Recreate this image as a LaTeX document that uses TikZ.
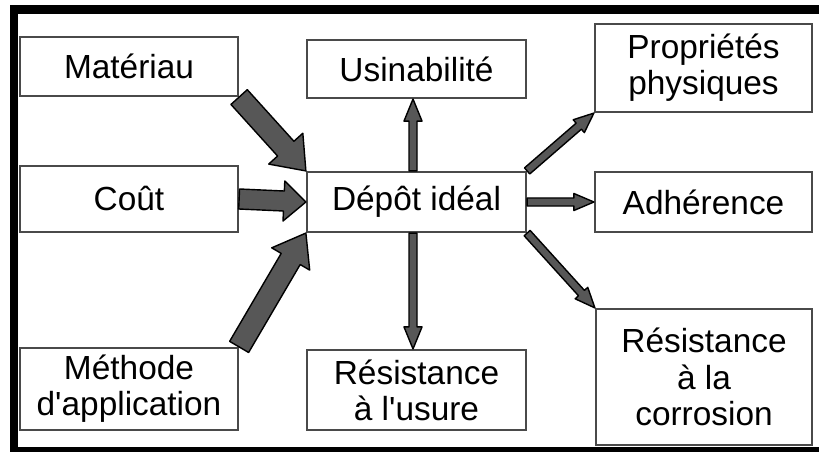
\documentclass[tikz,border=0pt]{standalone}
\usepackage{fontspec}
\setmainfont{Liberation Sans}
\usetikzlibrary{calc,positioning}
\definecolor{flechegris}{HTML}{575757}
\definecolor{bordgris}{HTML}{4A4A4A}
\tikzset{
  bloc/.style={draw=bordgris, line width=0.6pt, fill=white, align=center, inner sep=0pt,
    font=\fontsize{9.5}{10.3}\selectfont},
  fleche/.style={fill=flechegris, draw=black, line width=0.4pt, line join=round},
}
% block arrow: from, to, half shaft, half head, head length
\newcommand{\blocarrow}[5]{%
  \coordinate (fa) at (#1);
  \coordinate (fb) at (#2);
  \coordinate (fn) at ($(fb)!#5!(fa)$);
  \filldraw[fleche] ($(fa)!#3!90:(fb)$) -- ($(fn)!#3!90:(fb)$) -- ($(fn)!#4!90:(fb)$)
    -- (fb) -- ($(fn)!#4!-90:(fb)$) -- ($(fn)!#3!-90:(fb)$) -- ($(fa)!#3!-90:(fb)$) -- cycle;}

\begin{document}
\begin{tikzpicture}[x=0.01cm, y=-0.01cm]
    \useasboundingbox (0,0) rectangle (819,452);
    \fill[white] (0,0) rectangle (819,452);
    % frame
    \fill[black] (10,5) rectangle (819,452);
    \fill[white] (18,14) rectangle (819,447);

    % left column
    \node[bloc, minimum width=2.18cm, minimum height=0.59cm] (mat) at (129,66.5) {Matériau};
    \node[bloc, minimum width=2.18cm, minimum height=0.66cm] (cout) at (129,199) {Coût};
    \node[bloc, minimum width=2.18cm, minimum height=0.82cm] (meth) at (129,389) {Méthode\\d\textquotesingle application};

    % middle column
    \node[bloc, minimum width=2.19cm, minimum height=0.58cm] (usin) at (416.5,69) {Usinabilité};
    \node[bloc, minimum width=2.19cm, minimum height=0.60cm] (depot) at (416.5,202) {Dépôt idéal};
    \node[bloc, minimum width=2.19cm, minimum height=0.80cm] (usure) at (416.5,390) {Résistance\\à l\textquotesingle usure};

    % right column
    \node[bloc, minimum width=2.17cm, minimum height=0.88cm] (prop) at (703.5,68) {Propriétés\\physiques};
    \node[bloc, minimum width=2.17cm, minimum height=0.60cm] (adh) at (703.5,202) {Adhérence};
    \node[bloc, minimum width=2.16cm, minimum height=1.36cm] (corr) at (704,377) {Résistance\\à la\\corrosion};

    % inputs
    \blocarrow{mat.south east}{depot.north west}{1.1mm}{2.3mm}{3mm}
    \blocarrow{cout.east}{depot.west}{1mm}{2mm}{2.2mm}
    \blocarrow{meth.north east}{depot.south west}{1.1mm}{2.2mm}{3mm}

    % outputs
    \blocarrow{[xshift=-0.035cm]depot.north}{[xshift=-0.035cm]usin.south}{0.4mm}{0.9mm}{2.2mm}
    \blocarrow{[xshift=-0.035cm]depot.south}{[xshift=-0.035cm]usure.north}{0.4mm}{0.9mm}{2.2mm}
    \blocarrow{depot.north east}{prop.south west}{0.4mm}{0.85mm}{2mm}
    \blocarrow{depot.east}{adh.west}{0.4mm}{0.85mm}{2mm}
    \blocarrow{depot.south east}{corr.north west}{0.4mm}{0.85mm}{2mm}
\end{tikzpicture}
\end{document}
